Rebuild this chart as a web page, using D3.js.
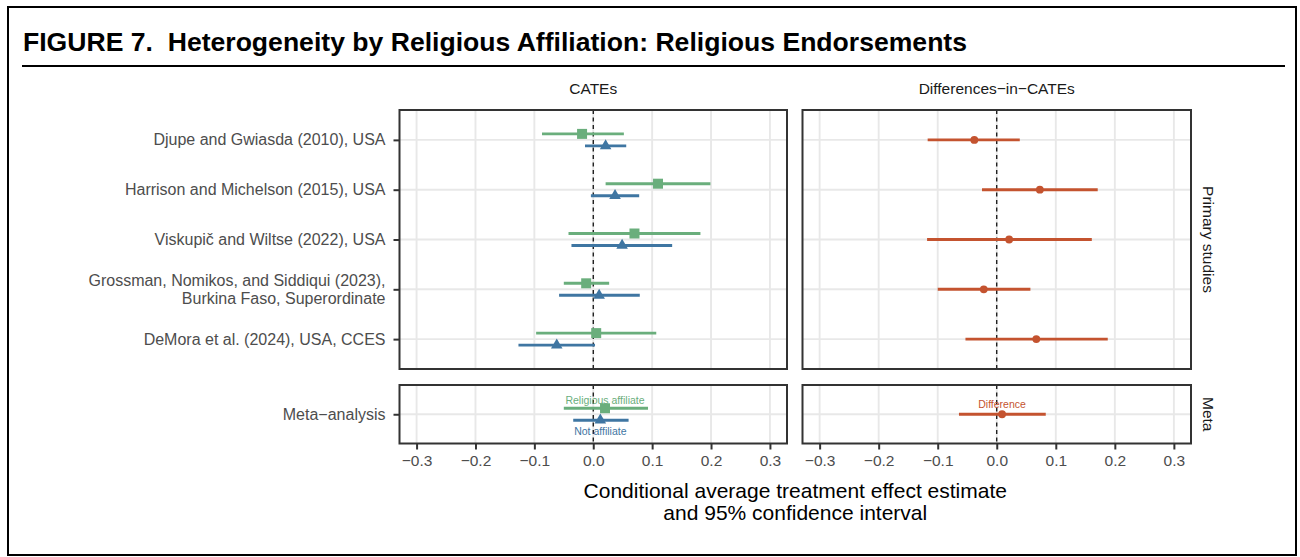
<!DOCTYPE html>
<html>
<head>
<meta charset="utf-8">
<script src="https://cdn.jsdelivr.net/npm/d3@7"></script>
<style>
  body { margin: 0; background: #fff; }
  svg { display: block; font-family: "Liberation Sans", Arial, sans-serif; }
</style>
</head>
<body>
<svg id="chart" width="1300" height="557"></svg>
<script>
// study labels (top to bottom)
var studies = [
    "Djupe and Gwiasda (2010), USA",
    "Harrison and Michelson (2015), USA",
    "Viskupič and Wiltse (2022), USA",
    "Grossman, Nomikos, and Siddiqui (2023),\nBurkina Faso, Superordinate",
    "DeMora et al. (2024), USA, CCES"
];
var metaLabel = ["Meta\u2212analysis"];

// religious affiliate CATEs
var relEst = [-0.019, 0.110, 0.070, -0.012, 0.005];
var relLo  = [-0.087, 0.021, -0.042, -0.050, -0.097];
var relHi  = [0.052, 0.199, 0.182, 0.027, 0.107];
// not affiliate CATEs
var notEst = [0.021, 0.037, 0.049, 0.010, -0.062];
var notLo  = [-0.014, -0.004, -0.037, -0.058, -0.127];
var notHi  = [0.056, 0.078, 0.134, 0.079, 0.003];
// differences
var diffEst = [-0.038, 0.073, 0.021, -0.022, 0.067];
var diffLo  = [-0.117, -0.025, -0.118, -0.100, -0.053];
var diffHi  = [0.039, 0.171, 0.161, 0.057, 0.188];
// meta-analysis estimates: [est, lo, hi]
var metaRel  = [0.020, -0.050, 0.093];
var metaNot  = [0.012, -0.034, 0.060];
var metaDiff = [0.009, -0.064, 0.083];

var xTicks = [-0.3, -0.2, -0.1, 0.0, 0.1, 0.2, 0.3];

var colors = { rel: "#6aae7c", not: "#3f76a2", diff: "#c4532f" };

var svg = d3.select("#chart");

// figure frame + title
svg.append("rect")
    .attr("x", 8).attr("y", 7).attr("width", 1288).attr("height", 548)
    .attr("fill", "none").attr("stroke", "#000").attr("stroke-width", 2);
svg.append("text")
    .attr("x", 23).attr("y", 51)
    .attr("font-weight", "bold").attr("font-size", 25)
    .attr("xml:space", "preserve")
    .attr("textLength", 944).attr("lengthAdjust", "spacingAndGlyphs")
    .text("FIGURE 7.  Heterogeneity by Religious Affiliation: Religious Endorsements");
svg.append("line")
    .attr("x1", 22).attr("x2", 1285).attr("y1", 66).attr("y2", 66)
    .attr("stroke", "#000").attr("stroke-width", 2);

// panel layout
var cols = [
    { x0: 399.5, x1: 787, strip: "CATEs" },
    { x0: 802.5, x1: 1191, strip: "Differences\u2212in\u2212CATEs" }
];
var rows = [
    { y0: 110, y1: 369, cats: studies, strip: "Primary studies" },
    { y0: 385, y1: 443.5, cats: metaLabel, strip: "Meta" }
];
var dodge = 6;

cols.forEach(function(c) {
    c.x = d3.scaleLinear().domain([-0.329, 0.329]).range([c.x0, c.x1]);
});
rows.forEach(function(r) {
    r.y = d3.scalePoint().domain(r.cats).range([r.y0, r.y1]).padding(0.6);
});

function drawPanel(c, r) {
    var g = svg.append("g");
    // grid
    g.selectAll(".vg").data(xTicks).enter().append("line")
        .attr("x1", d => c.x(d)).attr("x2", d => c.x(d))
        .attr("y1", r.y0).attr("y2", r.y1)
        .attr("stroke", "#e8e8e8").attr("stroke-width", 1.9);
    g.selectAll(".hg").data(r.cats).enter().append("line")
        .attr("x1", c.x0).attr("x2", c.x1)
        .attr("y1", d => r.y(d)).attr("y2", d => r.y(d))
        .attr("stroke", "#e8e8e8").attr("stroke-width", 1.9);
    // zero line
    g.append("line")
        .attr("x1", c.x(0)).attr("x2", c.x(0))
        .attr("y1", r.y0).attr("y2", r.y1)
        .attr("stroke", "#000").attr("stroke-width", 1.2)
        .attr("stroke-dasharray", "4,3.5");
    return g;
}

function drawEst(g, c, yPos, est, lo, hi, color, shape, size) {
    g.append("line")
        .attr("x1", c.x(lo)).attr("x2", c.x(hi))
        .attr("y1", yPos).attr("y2", yPos)
        .attr("stroke", color).attr("stroke-width", 2.9);
    g.append("path")
        .attr("d", d3.symbol().type(shape).size(size)())
        .attr("transform", `translate(${c.x(est)},${yPos})`)
        .attr("fill", color);
}

// top-left: CATEs by study
var gTL = drawPanel(cols[0], rows[0]);
studies.forEach(function(s, i) {
    var yy = rows[0].y(s);
    drawEst(gTL, cols[0], yy - dodge, relEst[i], relLo[i], relHi[i], colors.rel, d3.symbolSquare, 100);
    drawEst(gTL, cols[0], yy + dodge, notEst[i], notLo[i], notHi[i], colors.not, d3.symbolTriangle, 58);
});

// top-right: differences
var gTR = drawPanel(cols[1], rows[0]);
studies.forEach(function(s, i) {
    drawEst(gTR, cols[1], rows[0].y(s), diffEst[i], diffLo[i], diffHi[i], colors.diff, d3.symbolCircle, 48);
});

// bottom-left: meta CATEs
var gBL = drawPanel(cols[0], rows[1]);
var ym = rows[1].y(metaLabel[0]);
drawEst(gBL, cols[0], ym - dodge, metaRel[0], metaRel[1], metaRel[2], colors.rel, d3.symbolSquare, 100);
drawEst(gBL, cols[0], ym + dodge, metaNot[0], metaNot[1], metaNot[2], colors.not, d3.symbolTriangle, 58);
gBL.append("text")
    .attr("x", cols[0].x(metaRel[0])).attr("y", ym - 10)
    .attr("text-anchor", "middle").attr("font-size", 10.5).attr("fill", colors.rel)
    .text("Religious affiliate");
gBL.append("text")
    .attr("x", cols[0].x(metaNot[0])).attr("y", ym + 21)
    .attr("text-anchor", "middle").attr("font-size", 10.5).attr("fill", colors.not)
    .text("Not affiliate");

// bottom-right: meta difference
var gBR = drawPanel(cols[1], rows[1]);
drawEst(gBR, cols[1], ym, metaDiff[0], metaDiff[1], metaDiff[2], colors.diff, d3.symbolCircle, 48);
gBR.append("text")
    .attr("x", cols[1].x(metaDiff[0])).attr("y", ym - 6)
    .attr("text-anchor", "middle").attr("font-size", 10.5).attr("fill", colors.diff)
    .text("Difference");

// panel borders
cols.forEach(function(c) {
    rows.forEach(function(r) {
        svg.append("rect")
            .attr("x", c.x0).attr("y", r.y0)
            .attr("width", c.x1 - c.x0).attr("height", r.y1 - r.y0)
            .attr("fill", "none").attr("stroke", "#333").attr("stroke-width", 2);
    });
});

// strips
cols.forEach(function(c) {
    svg.append("text")
        .attr("x", (c.x0 + c.x1) / 2).attr("y", 94)
        .attr("text-anchor", "middle").attr("font-size", 15.5).attr("fill", "#1a1a1a")
        .text(c.strip);
});
rows.forEach(function(r) {
    var cy = (r.y0 + r.y1) / 2;
    svg.append("text")
        .attr("transform", `translate(1203,${cy}) rotate(90)`)
        .attr("text-anchor", "middle").attr("font-size", 15.5).attr("fill", "#1a1a1a")
        .text(r.strip);
});

// y axes (left column only)
rows.forEach(function(r) {
    var ax = svg.append("g")
        .attr("transform", `translate(${cols[0].x0},0)`)
        .call(d3.axisLeft(r.y).tickSize(6).tickPadding(8).tickFormat(""));
    ax.select(".domain").remove();
    ax.selectAll(".tick line").attr("stroke", "#333").attr("stroke-width", 2);
    r.cats.forEach(function(lbl) {
        var lines = lbl.split("\n");
        var t = svg.append("text")
            .attr("x", cols[0].x0 - 14)
            .attr("y", r.y(lbl))
            .attr("text-anchor", "end").attr("font-size", 16).attr("fill", "#4d4d4d");
        lines.forEach(function(ln, k) {
            t.append("tspan")
                .attr("x", cols[0].x0 - 14)
                .attr("dy", k === 0 ? (5.5 - (lines.length - 1) * 9) + "px" : "18px")
                .text(ln);
        });
    });
});

// x axes (bottom row)
cols.forEach(function(c) {
    var ax = svg.append("g")
        .attr("transform", `translate(0,${rows[1].y1})`)
        .call(d3.axisBottom(c.x).tickValues(xTicks).tickSize(6).tickPadding(5)
            .tickFormat(d => d3.format(".1f")(d).replace("-", "\u2212")));
    ax.select(".domain").remove();
    ax.selectAll(".tick line").attr("stroke", "#333").attr("stroke-width", 2);
    ax.selectAll(".tick text")
        .attr("font-size", 15.5).attr("fill", "#4d4d4d")
        .attr("font-family", "'Liberation Sans', Arial, sans-serif");
});

// x-axis title
var midX = (cols[0].x0 + cols[1].x1) / 2;
svg.append("text")
    .attr("x", midX).attr("y", 498)
    .attr("text-anchor", "middle").attr("font-size", 21).attr("fill", "#000")
    .text("Conditional average treatment effect estimate");
svg.append("text")
    .attr("x", midX).attr("y", 520)
    .attr("text-anchor", "middle").attr("font-size", 21).attr("fill", "#000")
    .text("and 95% confidence interval");
</script>
</body>
</html>
